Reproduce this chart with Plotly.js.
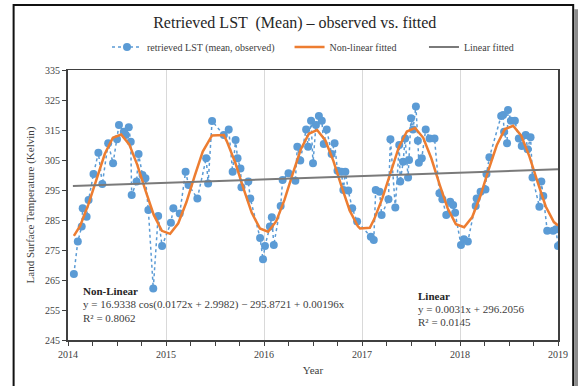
<!DOCTYPE html>
<html>
<head>
<meta charset="utf-8">
<script src="https://cdn.plot.ly/plotly-3.0.1.min.js"></script>
<style>
html,body{margin:0;padding:0;background:#fff;}
#chart{width:578px;height:386px;}
</style>
</head>
<body>
<div id="chart"></div>
<script>
// Observed retrieved LST (mean), decimal year vs Kelvin
var obsYear = [
  2014.06,2014.10,2014.14,2014.15,2014.19,2014.21,2014.26,2014.31,2014.35,2014.41,
  2014.46,2014.50,2014.52,2014.57,2014.59,2014.62,2014.64,2014.65,2014.70,2014.72,
  2014.76,2014.79,2014.82,2014.87,2014.92,2014.96,
  2015.05,2015.075,2015.14,2015.20,2015.23,2015.32,2015.41,2015.43,2015.47,2015.59,
  2015.64,2015.68,2015.71,2015.73,2015.76,2015.77,2015.84,2015.86,2015.96,2015.99,
  2016.01,2016.06,2016.08,2016.10,2016.17,2016.19,2016.25,2016.32,2016.34,2016.37,
  2016.43,2016.45,2016.48,2016.50,2016.53,2016.56,2016.59,2016.61,2016.64,2016.69,
  2016.72,2016.75,2016.79,2016.81,2016.83,2016.86,2016.90,2016.95,
  2017.09,2017.12,2017.14,2017.18,2017.20,2017.27,2017.29,2017.34,2017.38,2017.39,
  2017.42,2017.44,2017.47,2017.48,2017.50,2017.52,2017.55,2017.57,2017.58,2017.61,
  2017.65,2017.69,2017.74,2017.79,2017.82,2017.86,2017.90,2017.93,2017.95,
  2018.01,2018.04,2018.08,2018.16,2018.17,2018.21,2018.26,2018.27,2018.30,2018.42,
  2018.44,2018.45,2018.48,2018.49,2018.52,2018.56,2018.60,2018.63,2018.67,2018.69,
  2018.72,2018.74,2018.81,2018.83,2018.85,2018.89,2018.95,2018.98,2019.00
];
var obsLST = [
  267.0,277.8,282.8,288.9,286.1,291.7,300.3,307.4,297.0,310.6,
  303.9,311.9,316.7,314.4,313.3,315.9,311.1,293.3,297.8,307.0,
  300.0,298.9,288.3,262.2,286.3,276.3,
  284.1,288.9,287.2,301.1,296.7,292.2,305.6,297.2,318.0,313.3,
  315.2,301.1,311.7,305.6,302.2,295.9,297.8,292.2,279.0,271.9,
  276.3,282.8,285.9,276.7,289.7,298.3,300.6,298.1,309.4,304.8,
  315.2,309.4,318.1,303.9,316.7,319.7,318.1,310.3,315.2,307.0,
  310.6,301.4,301.1,295.0,301.1,294.8,288.9,284.5,
  279.4,278.3,295.0,294.4,286.7,291.9,311.9,289.2,310.0,297.8,
  304.4,312.2,299.2,305.0,318.9,315.2,322.8,311.4,304.1,305.6,
  315.2,312.2,312.2,293.9,291.9,286.7,291.1,290.0,287.4,
  276.7,278.6,277.8,289.7,292.2,294.4,295.2,300.3,305.9,319.7,
  320.0,314.4,310.6,321.7,318.1,318.1,312.2,309.7,313.3,308.6,
  312.6,299.2,289.4,297.8,293.0,281.4,281.4,281.9,276.3
];
// Non-linear fitted curve
var nlYear = [
  2014.06,2014.125,2014.208,2014.292,2014.375,2014.458,2014.542,2014.625,2014.708,2014.792,2014.875,2014.958,
  2015.042,2015.125,2015.208,2015.292,2015.375,2015.47,2015.59,2015.625,2015.708,2015.792,2015.875,2015.958,
  2016.042,2016.125,2016.208,2016.292,2016.375,2016.458,2016.542,2016.625,2016.708,2016.792,2016.875,2016.958,
  2016.98,2017.08,2017.125,2017.208,2017.292,2017.375,2017.458,2017.542,2017.625,2017.708,2017.792,2017.875,2017.958,
  2018.042,2018.125,2018.208,2018.292,2018.375,2018.458,2018.542,2018.625,2018.708,2018.792,2018.875,2018.958,2019.00
];
var nlLST = [
  279.7,283.1,290.2,298.9,307.0,312.4,313.5,310.2,303.3,294.7,286.7,281.4,
  280.4,283.9,290.9,299.6,307.8,313.2,313.3,310.9,304.0,295.4,287.4,282.2,
  281.1,284.6,291.6,300.3,308.5,313.8,315.0,311.6,304.7,296.1,288.1,282.9,
  282.2,282.4,285.3,292.3,301.1,309.2,314.5,315.7,312.4,305.5,296.8,288.8,283.6,
  282.6,286.0,293.0,301.8,309.9,315.3,316.4,313.1,306.2,297.6,289.5,284.3,283.2
];
// Linear fitted line
var linYear = [2014.05, 2019.00];
var linLST = [296.3, 301.9];

var serif = 'Liberation Serif, Times New Roman, serif';
var pad = function (n) { return new Array(n + 1).join('\u00a0'); };

var traces = [
  {x: obsYear, y: obsLST, type: 'scatter', mode: 'lines+markers',
   name: 'retrieved LST (mean, observed)' + pad(4),
   line: {color: '#5b9bd5', width: 1.5, dash: 'dot'},
   marker: {color: '#5b9bd5', size: 8}},
  {x: nlYear, y: nlLST, type: 'scatter', mode: 'lines',
   name: 'Non-linear fitted' + pad(9),
   line: {color: '#ed7d31', width: 2.5}},
  {x: linYear, y: linLST, type: 'scatter', mode: 'lines',
   name: 'Linear fitted',
   line: {color: '#7a7a7a', width: 2}}
];

var layout = {
  width: 578, height: 386,
  margin: {l: 68, r: 20, t: 70, b: 46},
  paper_bgcolor: '#ffffff', plot_bgcolor: '#ffffff',
  font: {family: serif, color: '#404040', size: 10},
  showlegend: true,
  title: {text: 'Retrieved LST  (Mean) \u2013 observed vs. fitted',
          font: {family: serif, size: 16, color: '#262626'},
          x: 0.51, xref: 'container', xanchor: 'center', y: 0.943, yref: 'container', yanchor: 'middle'},
  legend: {orientation: 'h', x: 0.5, xanchor: 'center', y: 1.085, yanchor: 'middle',
           font: {family: serif, size: 10, color: '#404040'}, bgcolor: 'rgba(0,0,0,0)'},
  xaxis: {range: [2014, 2019], tick0: 2014, dtick: 1, tickformat: 'd',
          showgrid: true, gridcolor: '#d9d9d9', gridwidth: 1, zeroline: false,
          showline: true, linecolor: '#404040', linewidth: 1.5, mirror: true,
          ticks: 'outside', ticklen: 4, tickcolor: '#404040',
          minor: {dtick: 0.25, tick0: 2014, ticks: 'outside', ticklen: 4, tickcolor: '#404040', showgrid: false},
          tickfont: {family: serif, size: 10, color: '#404040'},
          title: {text: 'Year', font: {family: serif, size: 11, color: '#404040'}, standoff: 8}},
  yaxis: {range: [245, 335], tick0: 245, dtick: 10,
          showgrid: false, zeroline: false,
          showline: true, linecolor: '#404040', linewidth: 2, mirror: true,
          ticks: 'outside', ticklen: 4, tickcolor: '#404040',
          tickfont: {family: serif, size: 10, color: '#404040'},
          title: {text: 'Land Surface Temperature (Kelvin)', font: {family: serif, size: 11, color: '#404040'}, standoff: 8}},
  shapes: [
    {type: 'rect', xref: 'paper', yref: 'paper', x0: -0.111, x1: 1.031, y0: -0.2, y1: 1.241,
     line: {color: '#111111', width: 2}, fillcolor: 'rgba(0,0,0,0)', layer: 'below'},
    {type: 'rect', xref: 'paper', yref: 'paper', x0: 1.033, x1: 1.05, y0: -0.2, y1: 1.225,
     line: {width: 0}, fillcolor: '#8c8c8c', layer: 'below'}
  ],
  annotations: [
    {text: '<b>Non-Linear</b>', xref: 'paper', yref: 'y', x: 0.026, y: 261.3, xanchor: 'left', yanchor: 'middle',
     showarrow: false, font: {family: serif, size: 11, color: '#262626'}},
    {text: 'y = 16.9338 cos(0.0172x + 2.9982) \u2212 295.8721 + 0.00196x', xref: 'paper', yref: 'y', x: 0.026, y: 256.7,
     xanchor: 'left', yanchor: 'middle', showarrow: false, font: {family: serif, size: 11, color: '#404040'}},
    {text: 'R\u00b2 = 0.8062', xref: 'paper', yref: 'y', x: 0.026, y: 252.4, xanchor: 'left', yanchor: 'middle',
     showarrow: false, font: {family: serif, size: 11, color: '#404040'}},
    {text: '<b>Linear</b>', xref: 'paper', yref: 'y', x: 0.71, y: 259.7, xanchor: 'left', yanchor: 'middle',
     showarrow: false, font: {family: serif, size: 11, color: '#262626'}},
    {text: 'y = 0.0031x + 296.2056', xref: 'paper', yref: 'y', x: 0.71, y: 255.3, xanchor: 'left', yanchor: 'middle',
     showarrow: false, font: {family: serif, size: 11, color: '#404040'}},
    {text: 'R\u00b2 = 0.0145', xref: 'paper', yref: 'y', x: 0.71, y: 251.0, xanchor: 'left', yanchor: 'middle',
     showarrow: false, font: {family: serif, size: 11, color: '#404040'}}
  ]
};

Plotly.newPlot('chart', traces, layout, {displayModeBar: false, staticPlot: true});
</script>
</body>
</html>
